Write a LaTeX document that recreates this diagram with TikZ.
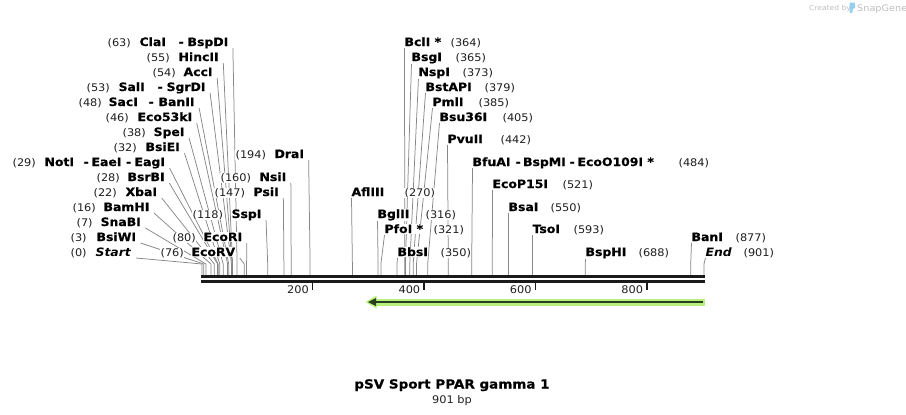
\documentclass[tikz,border=0pt]{standalone}
\usepackage{fontspec}
\newfontfamily\vfont[FakeStretch=1.08, BoldFeatures={FakeBold=0.6}]{DejaVu Sans}
\usetikzlibrary{calc}
\pgfdeclarelayer{lines}
\pgfsetlayers{lines,main}
\definecolor{linegray}{RGB}{135,135,135}
\definecolor{numgray}{RGB}{30,30,30}
\definecolor{featgreen}{RGB}{184,240,128}
\definecolor{featdark}{RGB}{40,62,30}
\definecolor{bbcol}{RGB}{26,26,26}
\definecolor{logogray}{RGB}{190,190,190}
\definecolor{logoblue}{RGB}{150,205,240}
\tikzset{
  nametxt/.style={font=\vfont\fontsize{11.5}{13}\selectfont\bfseries, anchor=base west, inner sep=0.4pt, fill=white, text=black},
  numtxt/.style={font=\vfont\fontsize{10.5}{12}\selectfont, anchor=base west, inner sep=0.4pt, fill=white, text=numgray},
  conn/.style={draw=linegray, line width=0.75pt},
  backbone/.style={draw=bbcol, line width=2.7pt},
  tickmark/.style={draw=bbcol, line width=1.6pt},
  ticktxt/.style={font=\vfont\fontsize{10.5}{12}\selectfont, anchor=base east, inner sep=0pt, text=numgray},
}
% left label: id, site x, baseline, num x, num, name x, name
\newcommand\LL[7]{%
  \coordinate (s#1) at (#2,275);
  \coordinate (b#1) at (#2,264);
  \node[numtxt] (n#1) at (#4,#3) {(#5)};
  \node[nametxt] (e#1) at (#6,#3) {#7};
  \begin{pgfonlayer}{lines}
  \draw[conn] ($(e#1.base east)+(4,2)$) -- (b#1) -- (s#1);
  \end{pgfonlayer}
}
% right label: id, site x, baseline, name x, name, num x, num
\newcommand\RL[7]{%
  \coordinate (s#1) at (#2,275);
  \coordinate (b#1) at (#2,264);
  \node[nametxt] (e#1) at (#4,#3) {#5};
  \node[numtxt] (n#1) at (#6,#3) {(#7)};
  \begin{pgfonlayer}{lines}
  \draw[conn] ($(e#1.base west)+(0.5,2)$) -- (b#1) -- (s#1);
  \end{pgfonlayer}
}
\begin{document}
\begin{tikzpicture}[x=1pt,y=-1pt]
\useasboundingbox (0,0) rectangle (906,415);

% backbone
\coordinate (bbA1) at (201,276.6); \coordinate (bbB1) at (705,276.6);
\coordinate (bbA2) at (201,281.3); \coordinate (bbB2) at (705,281.3);
\draw[backbone] (bbA1) -- (bbB1);
\draw[backbone] (bbA2) -- (bbB2);

% ticks
\foreach \v/\xx in {200/312.5,400/423.9,600/535.3,800/646.8}{
  \coordinate (t\v) at (\xx,281.5);
  \draw[tickmark] (t\v) -- ++(0,8.5);
  \node[ticktxt] (tl\v) at ($(t\v)+(-3.5,11.5)$) {\v};
}

% feature arrow
\coordinate (fL) at (368,302); \coordinate (fR) at (705,302);
\fill[featgreen] (373,298.5) rectangle (fR |- 0,305.5);
\fill[featgreen] ($(fL)+(-2.5,0)$) -- ++(11,-6.5) -- ++(0,13) -- cycle;
\draw[featdark, line width=1.6pt] ($(fL)+(6,0)$) -- ($(fR)+(-2,0)$);
\fill[featdark] (fL) -- ++(8,-4) -- ++(0,8) -- cycle;

% left labels
\node[nametxt] (p29a) at (44,166) {NotI};
\node[nametxt] (p29b) at (83,166) {-};
\node[nametxt] (p29c) at (91,166) {EaeI};
\node[nametxt] (p29d) at (125.5,166) {-};
\node[nametxt] (p48a) at (108,106) {SacI};
\node[nametxt] (p48b) at (148,106) {-};
\node[nametxt] (p53a) at (118,91) {SalI};
\node[nametxt] (p53b) at (157,91) {-};
\node[nametxt] (p63a) at (139,46) {ClaI};
\node[nametxt] (p63b) at (178,46) {-};
\LL{0}{202}{256}{70}{0}{95}{\textit{Start}}
\LL{3}{203.7}{241}{70}{3}{96}{BsiWI}
\LL{7}{205.9}{226}{76}{7}{100}{SnaBI}
\LL{16}{210.9}{211}{72}{16}{103}{BamHI}
\LL{22}{214.3}{196}{93}{22}{125}{XbaI}
\LL{28}{217.6}{181}{96}{28}{127}{BsrBI}
\LL{29}{218.2}{166}{12}{29}{134}{EagI}
\LL{32}{219.8}{151}{113}{32}{145}{BsiEI}
\LL{38}{223.2}{136}{122}{38}{153}{SpeI}
\LL{46}{227.6}{121}{105}{46}{137}{Eco53kI}
\LL{48}{228.7}{106}{78}{48}{158}{BanII}
\LL{53}{231.5}{91}{86}{53}{166}{SgrDI}
\LL{54}{232.1}{76}{152}{54}{183}{AccI}
\LL{55}{232.6}{61}{146}{55}{178}{HincII}
\LL{63}{237.1}{46}{107}{63}{187}{BspDI}
\LL{76}{244.3}{256}{160}{76}{191}{EcoRV}
\LL{80}{246.6}{241}{172}{80}{203}{EcoRI}
\LL{118}{267.7}{218}{192}{118}{231}{SspI}
\LL{147}{283.9}{196}{214}{147}{253}{PsiI}
\LL{160}{291.2}{181}{220}{160}{259}{NsiI}
\LL{194}{310.1}{158}{235}{194}{274}{DraI}

% right labels
\RL{270}{352.4}{196}{351}{AflIII}{404}{270}
\RL{316}{378.1}{218}{377}{BglII}{425}{316}
\RL{321}{380.9}{233}{384}{PfoI *}{433}{321}
\RL{350}{397}{256}{397}{BbsI}{440}{350}
\RL{364}{404.8}{46}{404}{BclI *}{450}{364}
\RL{365}{405.4}{61}{411}{BsgI}{455}{365}
\RL{373}{409.8}{76}{418}{NspI}{462}{373}
\RL{379}{413.2}{91}{425}{BstAPI}{484}{379}
\RL{385}{416.5}{106}{432}{PmlI}{478}{385}
\RL{405}{427.7}{121}{439}{Bsu36I}{502}{405}
\RL{442}{448.3}{143}{447}{PvuII}{500}{442}
\RL{484}{471.7}{166}{472}{BfuAI}{678}{484}
\node[nametxt] (p484a) at (515,166) {-};
\node[nametxt] (p484b) at (522.5,166) {BspMI};
\node[nametxt] (p484c) at (569,166) {-};
\node[nametxt] (p484d) at (577,166) {EcoO109I *};
\RL{521}{492.3}{188}{492}{EcoP15I}{562}{521}
\RL{550}{508.5}{211}{508}{BsaI}{550}{550}
\RL{593}{532.4}{233}{532}{TsoI}{573}{593}
\RL{688}{585.3}{256}{585}{BspHI}{638}{688}
\RL{877}{690.7}{241}{691}{BanI}{735}{877}
\RL{901}{704}{256}{705}{\textit{End}}{743}{901}

% title
\node[font=\vfont\fontsize{12.5}{14}\selectfont\bfseries, anchor=base, inner sep=0pt] (title) at (452,388.5) {pSV Sport PPAR gamma 1};
\node[font=\vfont\fontsize{10.5}{12}\selectfont, anchor=base, inner sep=0pt, text=numgray] (len) at (452,403) {901 bp};

% creator mark
\node[font=\vfont\fontsize{7}{8}\selectfont, anchor=base west, inner sep=0pt, text=logogray] (created) at (809,10) {Created by};
\fill[logoblue, rounded corners=0.8pt] (849.5,2.5) -- (855,2.5) -- (855,8.5) -- (852.5,8.5) -- (852.5,13) -- (849.5,13) -- cycle;
\node[font=\vfont\fontsize{9}{10}\selectfont, anchor=base west, inner sep=0pt, text=logogray] (snapgene) at (857,11) {SnapGene};
\end{tikzpicture}
\end{document}
